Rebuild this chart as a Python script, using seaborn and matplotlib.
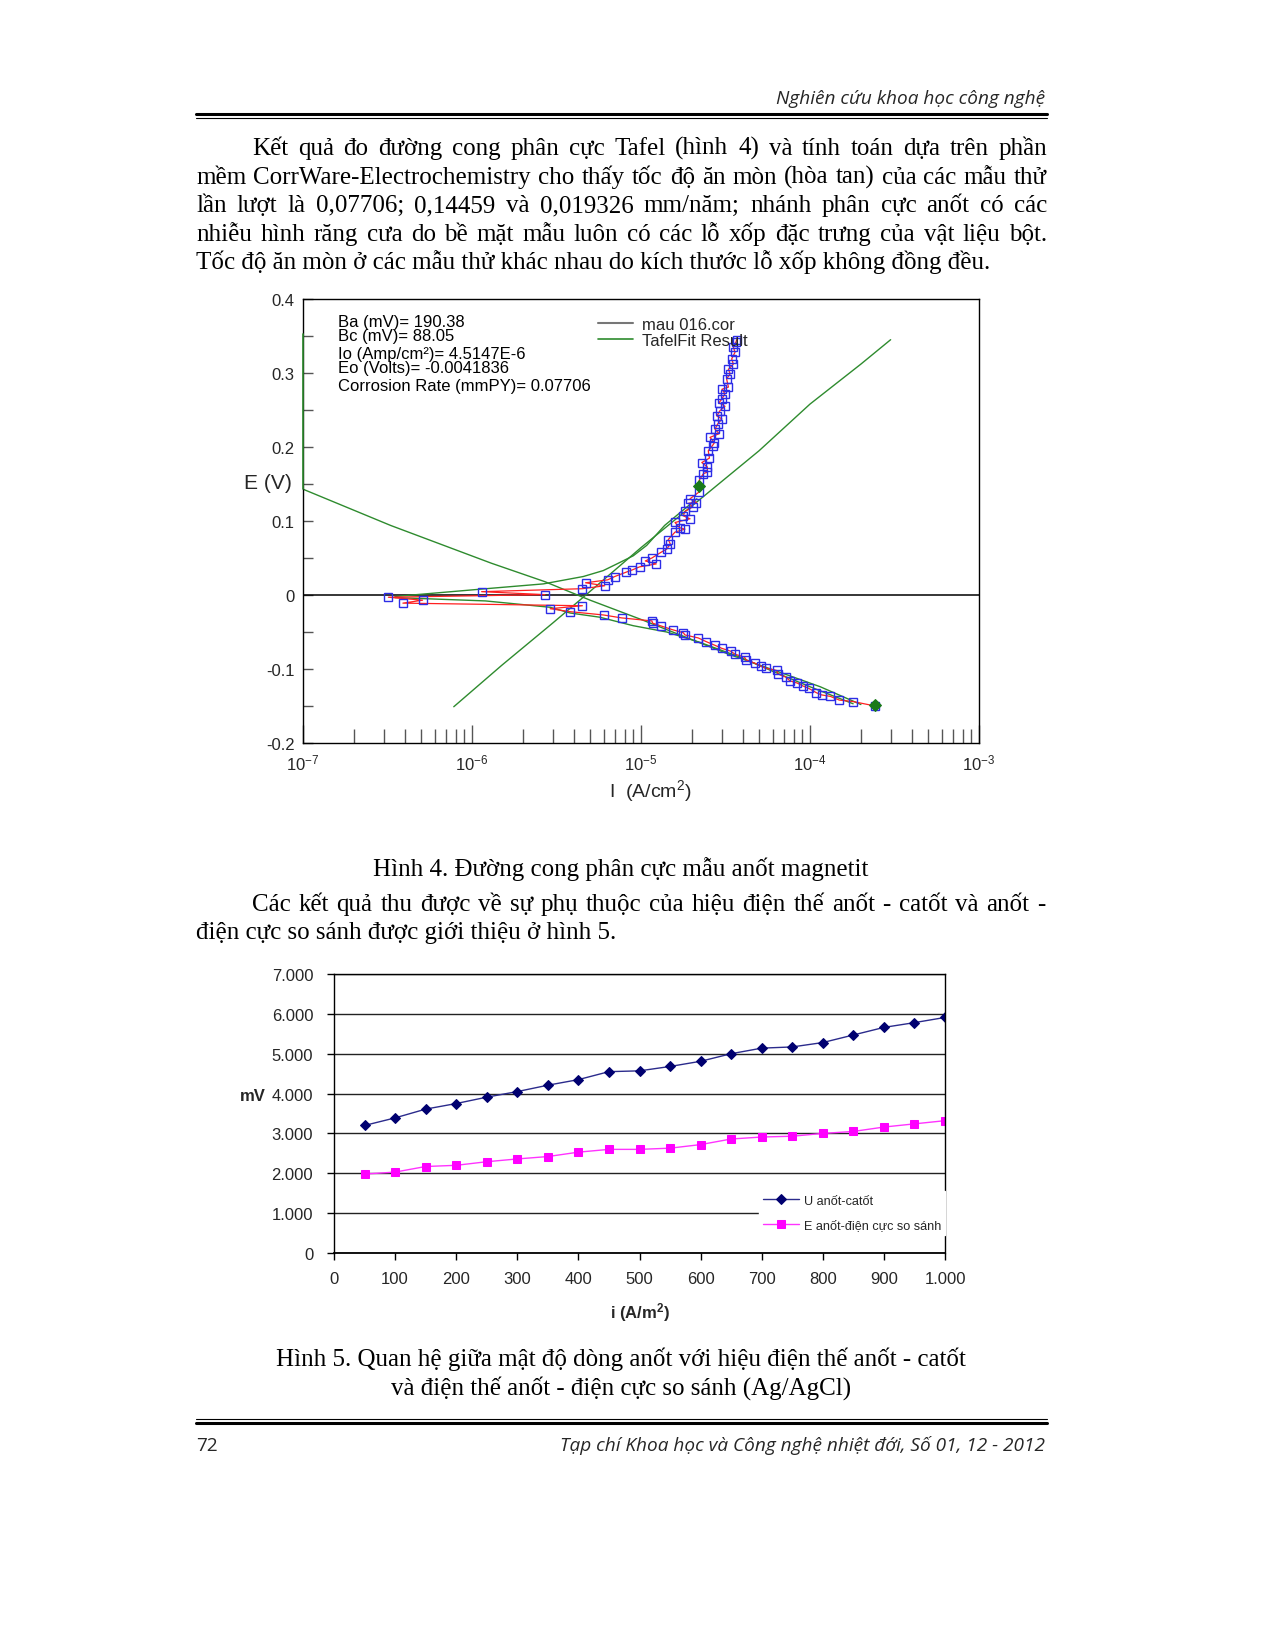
import matplotlib
matplotlib.use("Agg")
import numpy as np
import pandas as pd
import seaborn as sns
import matplotlib.pyplot as plt
from matplotlib.lines import Line2D
from matplotlib.ticker import FixedLocator, LogLocator, NullFormatter

W, H = 1274, 1649

# ---- Hinh 4: Tafel curve (current A/cm2, potential V)
scan_i = [2.43e-4, 1.80e-4, 1.49e-4, 1.32e-4, 1.17e-4, 1.09e-4, 9.8e-5, 9.1e-5, 8.4e-5, 7.6e-5,
          7.2e-5, 6.5e-5, 6.35e-5, 5.5e-5, 5.1e-5, 4.7e-5, 4.2e-5, 4.1e-5, 3.6e-5, 3.4e-5,
          3.0e-5, 2.74e-5, 2.43e-5, 2.18e-5, 1.82e-5, 1.78e-5, 1.54e-5, 1.32e-5, 1.17e-5, 1.16e-5,
          7.7e-6, 6.0e-6, 3.8e-6, 2.9e-6, 4.5e-6, 3.9e-7, 5.1e-7, 3.2e-7, 2.7e-6, 1.14e-6,
          4.5e-6, 6.1e-6, 4.7e-6, 6.35e-6, 7.0e-6, 8.2e-6, 8.9e-6, 9.8e-6, 1.23e-5, 1.06e-5,
          1.16e-5, 1.32e-5, 1.42e-5, 1.49e-5, 1.45e-5, 1.59e-5, 1.82e-5, 1.69e-5, 1.59e-5, 1.95e-5,
          1.78e-5, 1.82e-5, 2.02e-5, 1.91e-5, 2.13e-5, 1.95e-5, 2.20e-5, 2.21e-5, 2.34e-5, 2.47e-5,
          2.47e-5, 2.29e-5, 2.54e-5, 2.50e-5, 2.65e-5, 2.72e-5, 2.56e-5, 2.90e-5, 2.74e-5, 2.84e-5,
          3.01e-5, 2.81e-5, 2.93e-5, 3.14e-5, 2.90e-5, 3.01e-5, 3.14e-5, 3.01e-5, 3.29e-5, 3.21e-5,
          3.37e-5, 3.29e-5, 3.52e-5, 3.44e-5, 3.60e-5, 3.52e-5, 3.65e-5, 3.68e-5]
scan_e = [-0.150, -0.144, -0.142, -0.137, -0.135, -0.132, -0.126, -0.123, -0.119, -0.116,
          -0.111, -0.107, -0.102, -0.099, -0.096, -0.092, -0.088, -0.084, -0.080, -0.076,
          -0.072, -0.068, -0.063, -0.058, -0.054, -0.051, -0.047, -0.042, -0.038, -0.035,
          -0.031, -0.027, -0.0225, -0.0185, -0.0145, -0.011, -0.007, -0.003, 0.0005, 0.0045,
          0.0085, 0.0125, 0.0165, 0.0205, 0.025, 0.031, 0.034, 0.038, 0.042, 0.046,
          0.050, 0.058, 0.062, 0.069, 0.075, 0.085, 0.089, 0.091, 0.098, 0.103,
          0.107, 0.113, 0.119, 0.124, 0.125, 0.130, 0.139, 0.155, 0.164, 0.166,
          0.173, 0.179, 0.185, 0.195, 0.202, 0.206, 0.213, 0.218, 0.224, 0.231,
          0.238, 0.242, 0.249, 0.255, 0.260, 0.265, 0.272, 0.278, 0.281, 0.292,
          0.299, 0.305, 0.312, 0.319, 0.328, 0.335, 0.342, 0.345]

# Tafel fit lines (green)
ana_i = [7.8e-7, 1.5e-6, 3.0e-6, 4.5e-6, 1.0e-5, 2.2e-5, 5.0e-5, 1.0e-4, 2.0e-4, 3.0e-4]
ana_e = [-0.151, -0.095, -0.038, -0.004, 0.064, 0.128, 0.195, 0.258, 0.312, 0.345]
cat_i = [1.0e-7, 3.3e-7, 1.3e-6, 2.7e-6, 5.0e-6, 1.0e-5, 3.3e-5, 6.2e-5, 1.15e-4, 2.0e-4]
cat_e = [0.143, 0.094, 0.043, 0.018, -0.007, -0.033, -0.080, -0.102, -0.124, -0.148]
fit_a_i = [3.5e-7, 1.14e-6, 2.64e-6, 4.56e-6, 5.98e-6, 7.35e-6, 9.0e-6, 1.08e-5, 1.38e-5, 2.14e-5]
fit_a_e = [-0.002, 0.008, 0.015, 0.025, 0.033, 0.043, 0.053, 0.067, 0.094, 0.130]
fit_c_i = [3.5e-7, 1.2e-6, 2.9e-6, 3.8e-6, 5.7e-6, 9.0e-6, 1.42e-5, 2.23e-5, 3.86e-5, 6.0e-5, 1.0e-4, 1.8e-4]
fit_c_e = [-0.0035, -0.008, -0.0166, -0.0243, -0.030, -0.0415, -0.050, -0.064, -0.084, -0.103, -0.124, -0.147]
edge_e = [0.143, 0.353]
fit_end_i = [2.2e-5, 2.43e-4]
fit_end_e = [0.147, -0.149]

tafel_info = ["Ba (mV)= 190.38", "Bc (mV)= 88.05", "Io (Amp/cm²)= 4.5147E-6",
              "Eo (Volts)= -0.0041836", "Corrosion Rate (mmPY)= 0.07706"]

# ---- Hinh 5: anode current density vs potentials
density = [50, 100, 150, 200, 250, 300, 350, 400, 450, 500,
           550, 600, 650, 700, 750, 800, 850, 900, 950, 1000]
u_anode_cathode = [3200, 3390, 3610, 3750, 3910, 4050, 4210, 4350, 4550, 4570,
                   4680, 4810, 5000, 5140, 5170, 5280, 5470, 5660, 5780, 5910]
e_anode_ref = [1980, 2030, 2170, 2200, 2290, 2360, 2420, 2530, 2600, 2600,
               2630, 2720, 2860, 2910, 2930, 3000, 3050, 3160, 3240, 3320]

para1 = ["Kết quả đo đường cong phân cực Tafel (hình 4) và tính toán dựa trên phần",
         "mềm CorrWare-Electrochemistry cho thấy tốc độ ăn mòn (hòa tan) của các mẫu thử",
         "lần lượt là 0,07706; 0,14459 và 0,019326 mm/năm; nhánh phân cực anốt có các",
         "nhiễu hình răng cưa do bề mặt mẫu luôn có các lỗ xốp đặc trưng của vật liệu bột.",
         "Tốc độ ăn mòn ở các mẫu thử khác nhau do kích thước lỗ xốp không đồng đều."]
para2 = ["Các kết quả thu được về sự phụ thuộc của hiệu điện thế anốt - catốt và anốt -",
         "điện cực so sánh được giới thiệu ở hình 5."]
cap4 = "Hình 4. Đường cong phân cực mẫu anốt magnetit"
cap5 = ["Hình 5. Quan hệ giữa mật độ dòng anốt với hiệu điện thế anốt - catốt",
        "và điện thế anốt - điện cực so sánh (Ag/AgCl)"]

sns.set_theme(style="ticks")
plt.rcParams["font.family"] = ["Liberation Sans", "DejaVu Sans"]
plt.rcParams["mathtext.fontset"] = "custom"
plt.rcParams["mathtext.rm"] = "Liberation Sans"
plt.rcParams["mathtext.it"] = "Liberation Sans:italic"
plt.rcParams["mathtext.bf"] = "Liberation Sans:bold"

SERIF = ["Liberation Serif", "DejaVu Serif"]
HEAD = ["Open Sans", "DejaVu Sans"]

fig = plt.figure(figsize=(W / 100, H / 100), dpi=100)
fig.patch.set_facecolor("white")
rend = fig.canvas.get_renderer()


def fx(x):
    return x / W


def fy(y):
    return 1 - y / H


def text_w(s, **kw):
    t = fig.text(0, 0, s, **kw)
    w = t.get_window_extent(rend).width
    t.remove()
    return w


def fit_size(s, target, **kw):
    return 20 * target / text_w(s, fontsize=20, **kw)


def put_line(s, x0, x1, y, justify=True, **kw):
    if not justify:
        fig.text(fx(x0), fy(y), s, va="baseline", **kw)
        return
    words = s.split(" ")
    ws = [text_w(w, **kw) for w in words]
    gap = (x1 - x0 - sum(ws)) / (len(words) - 1)
    x = x0
    for w, wd in zip(words, ws):
        fig.text(fx(x), fy(y), w, va="baseline", **kw)
        x += wd + gap


def hline(y, lw):
    fig.add_artist(Line2D([fx(196), fx(1047)], [fy(y), fy(y)], lw=lw, color="black"))


# header / footer
hs = fit_size("Nghiên cứu khoa học công nghệ", 269, family=HEAD, style="italic")
fig.text(fx(1045), fy(104), "Nghiên cứu khoa học công nghệ", ha="right", va="baseline",
         family=HEAD, style="italic", fontsize=hs)
hline(114.5, 2.2)
hline(118.5, 0.8)
hline(1420, 0.8)
hline(1424, 2.2)
fig.text(fx(196), fy(1451), "72", va="baseline", family=HEAD, fontsize=hs)
fig.text(fx(1045), fy(1451), "Tạp chí Khoa học và Công nghệ nhiệt đới, Số 01, 12 - 2012",
         ha="right", va="baseline", family=HEAD, style="italic", fontsize=hs)

# body text
bs = fit_size(para1[-1], 793, family=SERIF)
body = dict(family=SERIF, fontsize=bs, color="black")
for k, s in enumerate(para1):
    x0 = 252 if k == 0 else 196
    put_line(s, x0, 1047, 155 + 28.6 * k, justify=(k < len(para1) - 1), **body)
fig.text(fx(621), fy(876), cap4, ha="center", va="baseline", **body)
put_line(para2[0], 252, 1045, 911, **body)
put_line(para2[1], 196, 1045, 939.5, justify=False, **body)
fig.text(fx(621), fy(1366), cap5[0], ha="center", va="baseline", **body)
fig.text(fx(621), fy(1395), cap5[1], ha="center", va="baseline", **body)

# ---------------- Hinh 4 ----------------
ax1 = fig.add_axes([fx(303), fy(744), (979 - 303) / W, (744 - 300) / H])
ax1.set_xscale("log")
green = "#2e8b2e"
sns.lineplot(x=ana_i, y=ana_e, sort=False, estimator=None, color=green, lw=1, ax=ax1)
sns.lineplot(x=cat_i, y=cat_e, sort=False, estimator=None, color=green, lw=1, ax=ax1)
sns.lineplot(x=fit_a_i, y=fit_a_e, sort=False, estimator=None, color=green, lw=1, ax=ax1)
sns.lineplot(x=fit_c_i, y=fit_c_e, sort=False, estimator=None, color=green, lw=1, ax=ax1)
sns.lineplot(x=scan_i, y=scan_e, sort=False, estimator=None, color="#ff2020", lw=0.9, ax=ax1)
sns.lineplot(x=scan_i, y=scan_e, sort=False, estimator=None, marker="s", ls="", ms=5.5,
             mfc="none", mec="#2d2de6", mew=1, ax=ax1)
sns.lineplot(x=fit_end_i, y=fit_end_e, sort=False, estimator=None, marker="D", ls="", ms=6,
             mfc="#1a7a1a", mec="#1a7a1a", ax=ax1)
edge = ax1.plot([1e-7, 1e-7], edge_e, color=green, lw=1.2, zorder=3)[0]
edge.set_clip_on(False)
ax1.axhline(0, color="black", lw=1.1, zorder=1)
ax1.set_xlim(1e-7, 1e-3)
ax1.set_ylim(-0.2, 0.4)
ax1.set_xticks([1e-7, 1e-6, 1e-5, 1e-4, 1e-3])
ax1.set_xticklabels(["$10^{-7}$", "$10^{-6}$", "$10^{-5}$", "$10^{-4}$", "$10^{-3}$"])
ax1.xaxis.set_minor_locator(LogLocator(base=10, subs=range(2, 10)))
ax1.xaxis.set_minor_formatter(NullFormatter())
ax1.set_yticks([-0.2, -0.1, 0, 0.1, 0.2, 0.3, 0.4])
ax1.set_yticklabels(["-0.2", "-0.1", "0", "0.1", "0.2", "0.3", "0.4"])
ax1.yaxis.set_minor_locator(FixedLocator([-0.15, -0.05, 0.05, 0.15, 0.25, 0.35]))
ax1.tick_params(axis="x", which="major", direction="in", length=13, width=1, color="#555555",
                top=False, bottom=True, labelsize=12, pad=7)
ax1.tick_params(axis="x", which="minor", direction="in", length=10, width=1, color="#555555",
                top=False, bottom=True)
ax1.tick_params(axis="y", which="both", direction="in", length=7, width=1, color="#555555",
                left=True, right=False, labelsize=12, pad=6)
ax1.tick_params(axis="y", which="minor", left=True)
for sp in ax1.spines.values():
    sp.set_visible(True)
    sp.set_color("black")
    sp.set_linewidth(1)
ax1.set_xlabel("")
ax1.set_ylabel("")
ax1.set_facecolor("white")

ts = fit_size(tafel_info[-1], 252)
for k, s in enumerate(tafel_info):
    fig.text(fx(338), fy([327, 341.5, 358.5, 373, 391][k]), s, va="baseline",
             fontsize=ts, color="black", linespacing=1)
fig.add_artist(Line2D([fx(598), fx(633)], [fy(324), fy(324)], color="#777777", lw=1.5))
fig.add_artist(Line2D([fx(598), fx(633)], [fy(340), fy(340)], color=green, lw=1.2))
fig.text(fx(642), fy(330), "mau 016.cor", va="baseline", fontsize=ts)
fig.text(fx(642), fy(346.5), "TafelFit Result", va="baseline", fontsize=ts)
fig.text(fx(268), fy(489), "E (V)", ha="center", va="baseline",
         fontsize=fit_size("E (V)", 48))
fig.text(fx(650), fy(797), "I  (A/cm$^{2}$)", ha="center", va="baseline", fontsize=14)

# ---------------- Hinh 5 ----------------
ax2 = fig.add_axes([fx(334), fy(1254), (945 - 334) / W, (1254 - 975) / H])
sns.lineplot(x=density, y=u_anode_cathode, color="#2b2b8c", lw=1, marker="D", ms=5.5,
             mfc="#000070", mec="#000070", label="U anốt-catốt", ax=ax2)
sns.lineplot(x=density, y=e_anode_ref, color="#ff33ff", lw=1, marker="s", ms=5.5,
             mfc="#ff00ff", mec="#ff00ff", label="E anốt-điện cực so sánh", ax=ax2)
ax2.set_xlim(0, 1000)
ax2.set_ylim(0, 7000)
ax2.set_xticks(range(0, 1001, 100))
ax2.set_xticklabels(["0", "100", "200", "300", "400", "500", "600", "700", "800", "900", "1.000"])
ax2.set_yticks(range(0, 7001, 1000))
ax2.set_yticklabels(["0", "1.000", "2.000", "3.000", "4.000", "5.000", "6.000", "7.000"])
ax2.yaxis.grid(True, color="#222222", lw=1)
ax2.set_axisbelow(True)
ax2.tick_params(axis="both", direction="out", length=5, width=1, color="black", labelsize=12)
ax2.tick_params(axis="y", pad=10)
ax2.tick_params(axis="x", pad=8)
for sp in ax2.spines.values():
    sp.set_visible(True)
    sp.set_color("black")
    sp.set_linewidth(1)
ax2.spines["bottom"].set_linewidth(1.3)
ax2.set_xlabel("")
ax2.set_ylabel("")
ls = fit_size("E anốt-điện cực so sánh", 136)
leg = ax2.legend(loc="lower right", bbox_to_anchor=(fx(945), fy(1236)), bbox_transform=fig.transFigure,
                 frameon=True, fancybox=False, edgecolor="white", facecolor="white", framealpha=1,
                 fontsize=ls, handlelength=2.9, handletextpad=0.35, labelspacing=1.0,
                 borderpad=0.3, borderaxespad=0)
fig.text(fx(253), fy(1101), "mV", ha="center", va="baseline", fontsize=12, fontweight="bold")
fig.text(fx(640), fy(1318), r"i (A/m$^\mathbf{2}$)", ha="center", va="baseline",
         fontsize=12, fontweight="bold")

fig.savefig("out.png", dpi=100, facecolor="white")
